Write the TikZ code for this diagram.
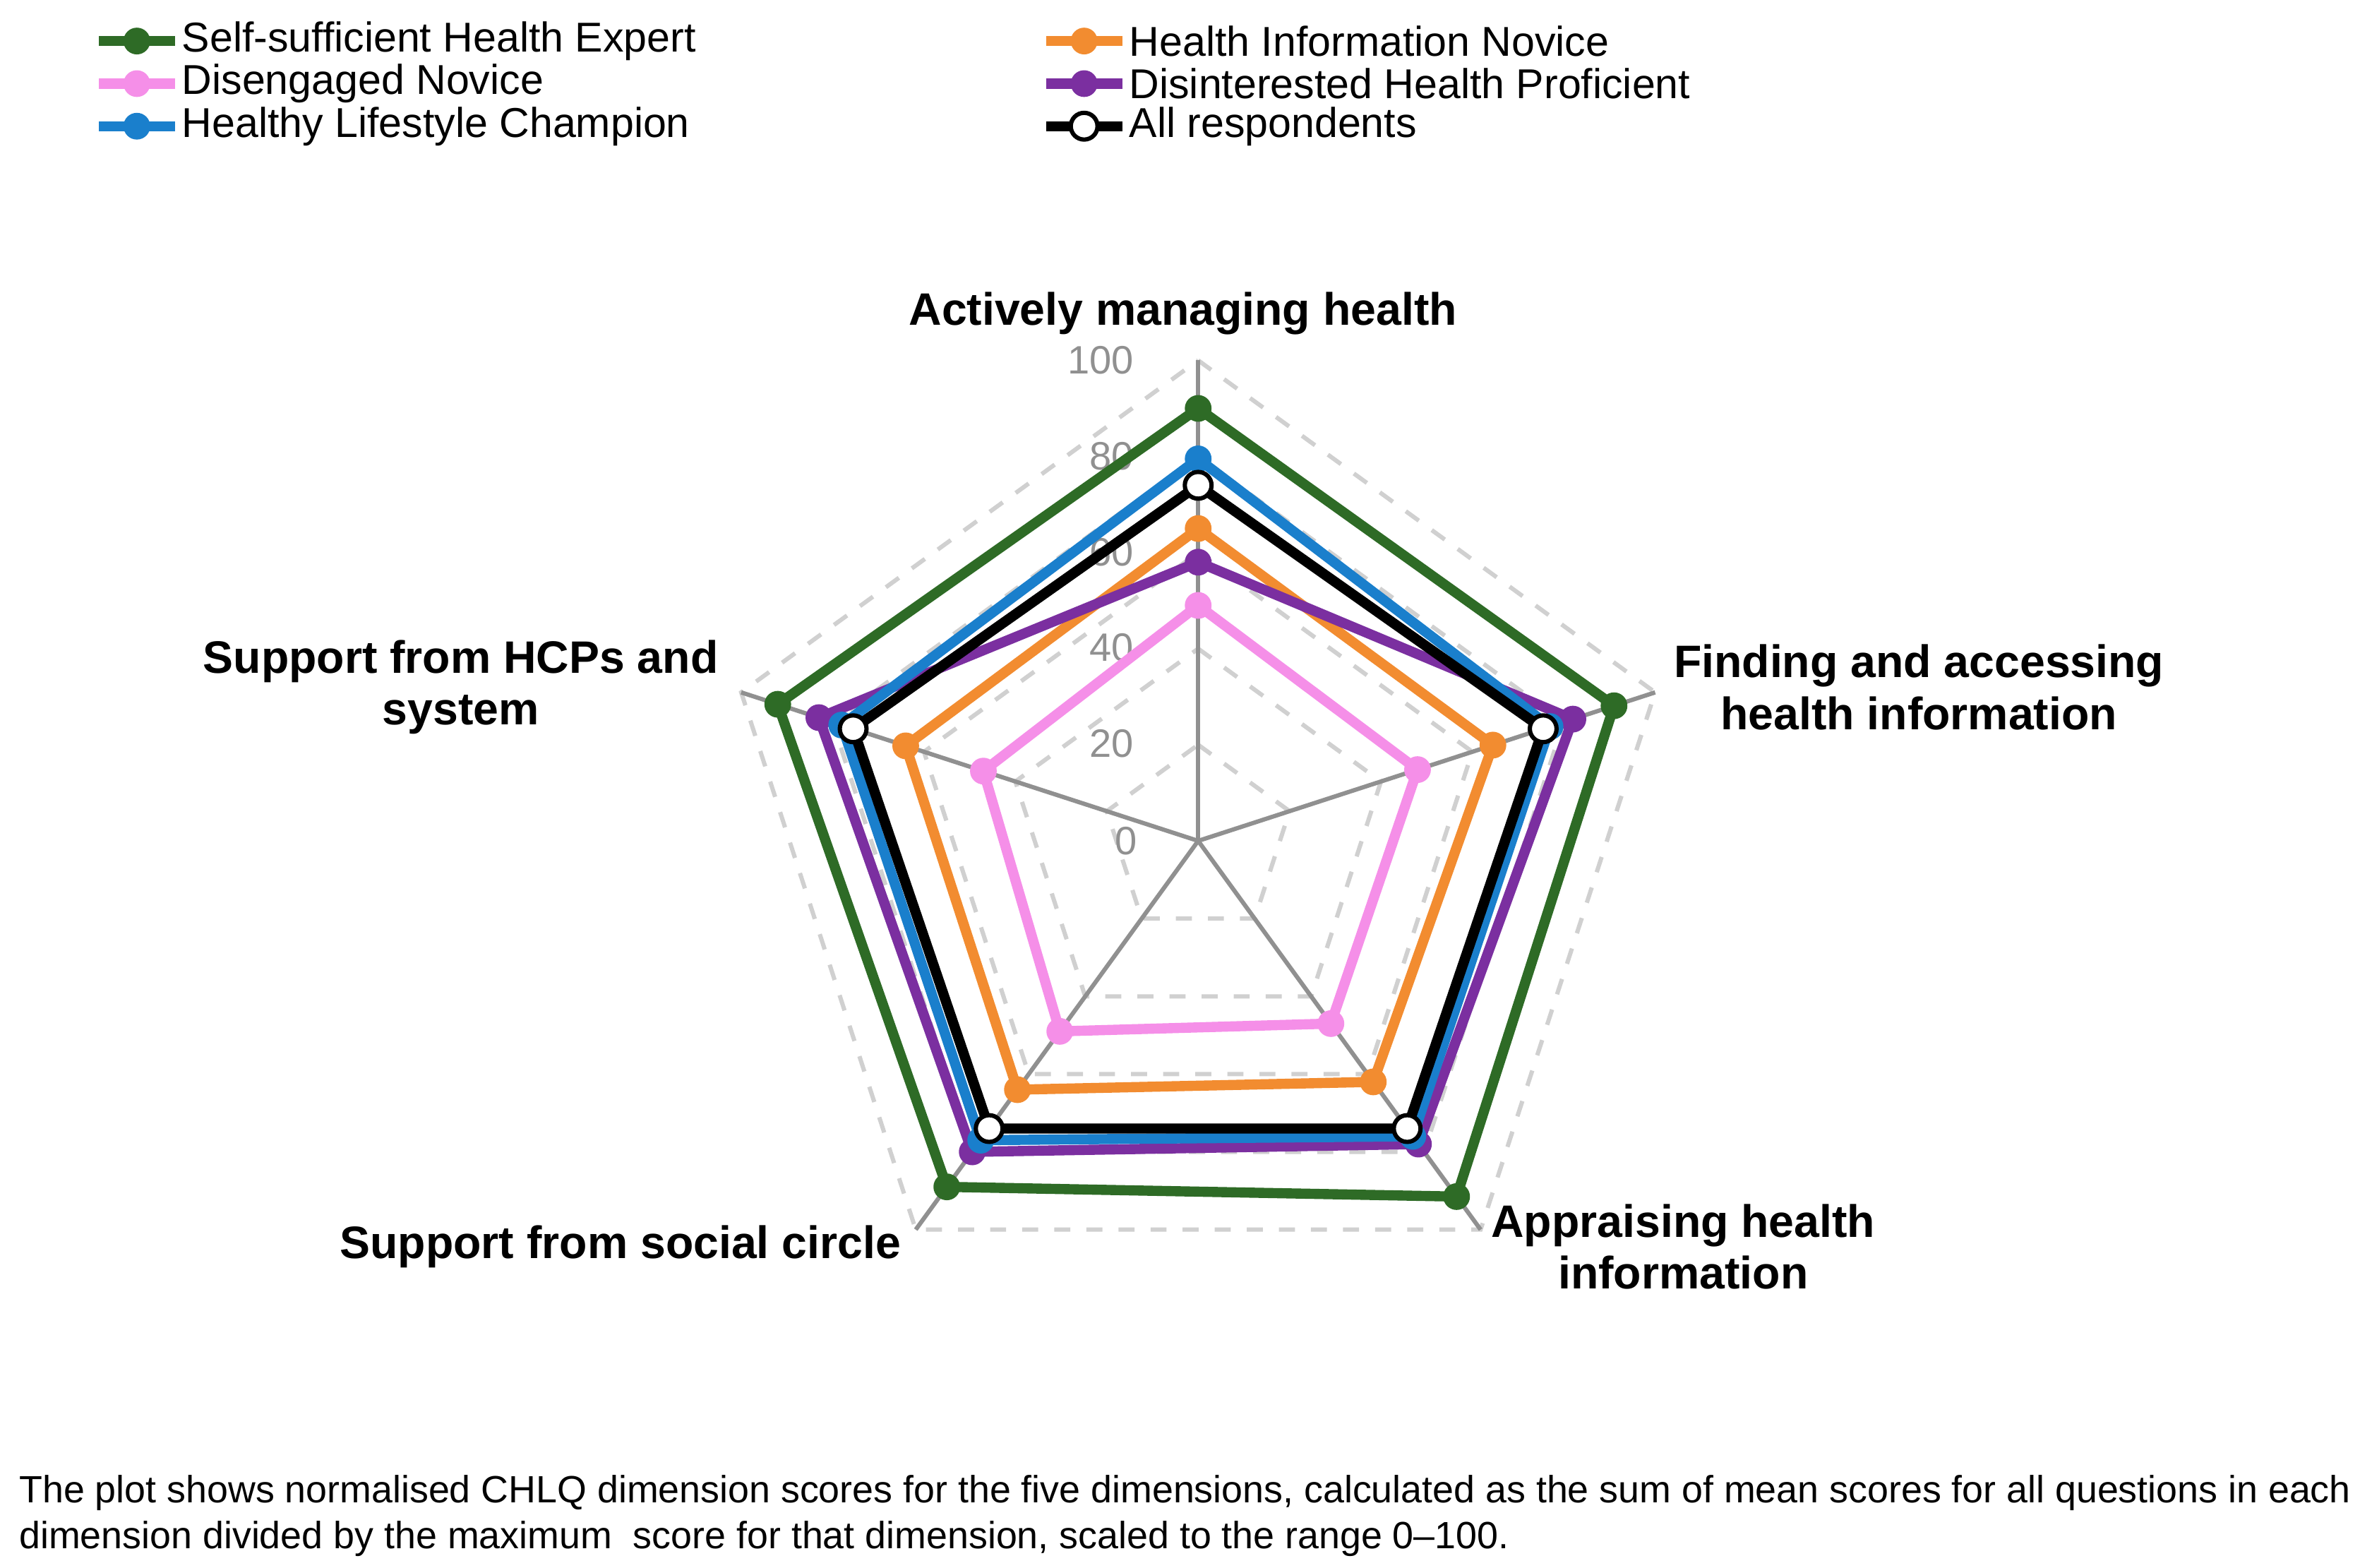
\documentclass[tikz,border=0pt]{standalone}
\usepackage{fontspec}
\setmainfont{Liberation Sans}
\definecolor{cgreen}{HTML}{2E6B26}
\definecolor{corange}{HTML}{F28C30}
\definecolor{cpink}{HTML}{F58FE8}
\definecolor{cpurple}{HTML}{7B2FA0}
\definecolor{cblue}{HTML}{1A7FCC}
\definecolor{cgrid}{HTML}{D0D0D0}
\definecolor{cspoke}{HTML}{909090}
\begin{document}
\begin{tikzpicture}[x=0.01cm,y=0.01cm,
  series/.style={line width=1.9pt,line join=round},
  mk/.style={circle,inner sep=0pt,minimum size=5pt},
  axlab/.style={font=\fontsize{8.5}{9.7}\selectfont\bfseries,align=center},
  leg/.style={font=\fontsize{7.8}{8.6}\selectfont,anchor=west,inner sep=0pt},
  tick/.style={font=\fontsize{7.4}{8.6}\selectfont,text=cspoke}]
\useasboundingbox (0,0) rectangle (1560,-1031);
% legend
\foreach \col/\x/\y/\t in {cgreen/65/27/{Self-sufficient Health Expert},
  cpink/65/55/{Disengaged Novice},cblue/65/83/{Healthy Lifestyle Champion},
  corange/688/27/{Health Information Novice},cpurple/688/55/{Disinterested Health Proficient}}{
  \draw[\col,line width=1.9pt] (\x,-\y) -- ++(50,0);
  \node[mk,fill=\col] at (\x+25,-\y) {};
  \node[leg] at (\x+54,-\y) {\t};
}
\draw[black,line width=1.9pt] (688,-83) -- ++(50,0);
\node[mk,fill=white,draw=black,line width=0.8pt] (legall) at (713,-83) {};
\node[leg] at (742,-83) {All respondents};
% radar
\begin{scope}[shift={(788,-553)}]
\foreach \r in {20,40,60,80,100}{
  \draw[cgrid,dashed,line width=0.8pt] (90:\r*3.16) -- (18:\r*3.16) -- (-54:\r*3.16) -- (234:\r*3.16) -- (162:\r*3.16) -- cycle;}
\foreach \a in {90,18,-54,234,162}{\draw[cspoke,line width=0.8pt] (0,0) -- (\a:316);}
\foreach \v/\yy in {100/0,80/63,60/126,40/189,20/252}{
  \node[tick,anchor=east] at (-30,316-\yy) {\v};}
\node[tick,anchor=east] at (-28,0) {0};
\foreach \col/\a/\b/\c/\d/\e in {cpink/49/48/47/49/47,corange/65/64.5/62/64/64,
   cpurple/58/82/78/80/83,cblue/79.5/77/76/77/78,black/74/75.5/74/74/75.5,cgreen/90/91/91.5/89/92}{
  \draw[series,\col] (90:\a*3.16) -- (18:\b*3.16) -- (-54:\c*3.16) -- (234:\d*3.16) -- (162:\e*3.16) -- cycle;
  \foreach \ang/\val in {90/\a,18/\b,-54/\c,234/\d,162/\e}{
    \node[mk,fill=\col] at (\ang:\val*3.16) {};}
}
\foreach \ang/\val in {90/74,18/75.5,-54/74,234/74,162/75.5}{
  \node[mk,fill=white,draw=black,line width=0.8pt] at (\ang:\val*3.16) {};}
\end{scope}
\node[axlab] (l1) at (778,-206) {Actively managing health};
\node[axlab] (l2) at (1262,-452) {Finding and accessing\\health information};
\node[axlab] (l3) at (1107,-820) {Appraising health\\information};
\node[axlab] (l4) at (408,-820) {Support from social circle};
\node[axlab] (l5) at (303,-452) {Support from HCPs and\\system};
\node[font=\fontsize{7.1}{8.6}\selectfont,align=left,anchor=west,inner sep=0pt] (note) at (12,-997)
 {The plot shows normalised CHLQ dimension scores for the five dimensions, calculated as the sum of mean scores for all questions in each\\dimension divided by the maximum\ \ score for that dimension, scaled to the range 0–100.};
\end{tikzpicture}
\end{document}
